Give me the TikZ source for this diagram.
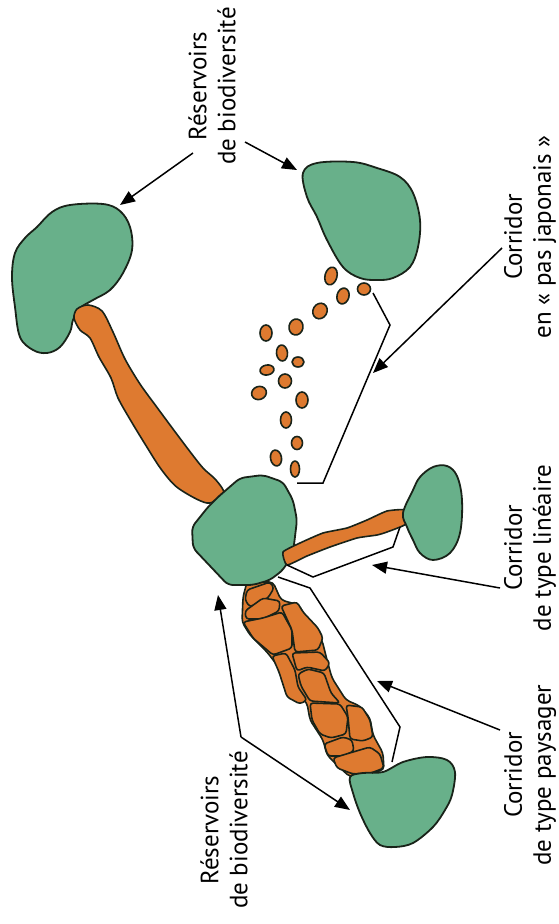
\documentclass[tikz,border=0pt]{standalone}
\usepackage{fontspec}
\setmainfont{PT Sans}
\usetikzlibrary{arrows.meta}
\definecolor{resgreen}{RGB}{104,176,138}
\definecolor{corange}{RGB}{222,122,48}
\definecolor{outl}{RGB}{25,35,25}
\begin{document}
\begin{tikzpicture}[x=1pt,y=-1pt,
 blob/.style={fill=resgreen,draw=outl,line width=1.8pt,line join=round},
 corr/.style={fill=corange,draw=outl,line width=1.6pt,line join=round},
 leader/.style={draw=black,line width=1.5pt,line join=miter},
 arr/.style={leader,-{Triangle[length=15pt,width=12pt]}},
 lbl/.style={rotate=90,align=center,font=\fontsize{25}{29}\selectfont,inner sep=0pt}]
\useasboundingbox (0,0) rectangle (558,924);

% top-left reservoir
\draw[blob] plot[smooth cycle,tension=0.6] coordinates {(70,205) (103,204) (120,211) (130,227) (132,250) (123,273) (110,290) (93,300) (80,308) (73,320) (70,332) (60,347) (47,353) (33,350) (20,337) (15,307) (12,277) (15,253) (25,238) (37,227) (52,212)};
% long corridor
\draw[corr] plot[smooth cycle,tension=0.5] coordinates {(74,318) (80,330) (90,338) (99,357) (111,378) (118,398) (131,421) (145,444) (161,469) (178,488) (207,503) (224,494) (216,480) (203,468) (188,449) (173,429) (156,406) (140,384) (125,359) (113,332) (102,311) (88,305) (77,309)};

% landscape corridor (paysager)
\draw[corr,rounded corners=4pt] (247,582) -- (243,597) -- (242,622) -- (250,635) -- (267,652) -- (277,665) -- (290,685) -- (307,703) -- (310,720) -- (323,740) -- (327,755) -- (337,765) -- (350,777) -- (384,770) -- (383,753) -- (373,735) -- (370,718) -- (360,706) -- (346,700) -- (332,678) -- (327,660) -- (322,640) -- (310,625) -- (299,605) -- (281,600) -- (273,582) -- cycle;
\draw[corr,rounded corners=3pt] (247,590) -- (270,582) -- (274,588) -- (268,598) -- (250,607) -- (245,600) -- cycle;
\draw[corr,rounded corners=3pt] (245,611) -- (263,598) -- (280,601) -- (279,611) -- (263,619) -- (246,619) -- cycle;
\draw[corr,rounded corners=3pt] (243,622) -- (263,618) -- (282,612) -- (292,630) -- (292,648) -- (273,655) -- (253,638) -- cycle;
\draw[corr,rounded corners=3pt] (281,606) -- (297,602) -- (303,612) -- (318,628) -- (323,638) -- (318,650) -- (295,652) -- (292,630) -- cycle;
\draw[corr,rounded corners=3pt] (272,656) -- (286,653) -- (295,670) -- (298,687) -- (307,700) -- (300,704) -- (287,697) -- (279,672) -- cycle;
\draw[corr,rounded corners=3pt] (292,653) -- (320,652) -- (330,663) -- (325,671) -- (307,667) -- (297,671) -- cycle;
\draw[corr,rounded corners=3pt] (298,674) -- (308,669) -- (324,673) -- (331,693) -- (340,703) -- (310,701) -- (301,686) -- cycle;
\draw[corr,rounded corners=3pt] (310,703) -- (340,704) -- (348,717) -- (346,734) -- (331,738) -- (320,734) -- (312,720) -- cycle;
\draw[corr,rounded corners=3pt] (346,705) -- (362,707) -- (370,720) -- (373,737) -- (363,741) -- (350,739) -- (348,717) -- cycle;
\draw[corr,rounded corners=3pt] (324,744) -- (343,737) -- (352,740) -- (354,751) -- (343,756) -- (328,756) -- cycle;
\draw[corr,rounded corners=3pt] (333,758) -- (353,752) -- (370,747) -- (380,754) -- (384,768) -- (371,773) -- (353,774) -- (337,768) -- cycle;

% central reservoir
\draw[blob,rounded corners=5pt] (218,497) -- (240,478) -- (263,475) -- (283,482) -- (293,500) -- (297,520) -- (293,553) -- (283,570) -- (270,580) -- (253,585) -- (228,585) -- (193,548) -- (192,527) -- (208,507) -- cycle;
% bottom reservoir
\draw[blob] plot[smooth cycle,tension=0.55] coordinates {(350,777) (363,773) (383,772) (403,762) (427,757) (447,760) (455,772) (452,795) (445,810) (433,827) (413,843) (395,847) (380,845) (370,833) (360,813) (353,793)};
% linear corridor
\draw[corr] plot[smooth cycle,tension=0.3] coordinates {(283,552) (300,543) (323,533) (347,528) (367,520) (387,511) (406,510) (406,524) (387,532) (377,535) (357,538) (330,547) (307,556) (287,565)};
% linear reservoir
\draw[blob] plot[smooth cycle,tension=0.6] coordinates {(403,513) (413,490) (420,477) (433,467) (447,466) (457,476) (462,500) (460,533) (450,553) (433,560) (420,553) (413,540) (407,527)};
% top-right reservoir
\draw[blob] plot[smooth cycle,tension=0.6] coordinates {(303,173) (317,163) (353,162) (377,168) (400,177) (413,193) (420,220) (418,247) (410,267) (393,278) (377,280) (360,278) (343,267) (327,240) (317,217) (307,197)};

% stepping stones
\draw[corr] (331,276) ellipse [x radius=6pt,y radius=9pt,rotate=-15];
\draw[corr] (343,296) ellipse [x radius=6pt,y radius=8pt,rotate=-15];
\draw[corr] (364,289) ellipse [x radius=6.5pt,y radius=6pt];
\draw[corr] (320,311) ellipse [x radius=7pt,y radius=8pt,rotate=-30];
\draw[corr] (296,327) ellipse [x radius=7pt,y radius=8pt,rotate=-10];
\draw[corr] (266,333) ellipse [x radius=6pt,y radius=8pt];
\draw[corr] (282,353) ellipse [x radius=5.5pt,y radius=8pt,rotate=5];
\draw[corr] (298,362) ellipse [x radius=6pt,y radius=5pt];
\draw[corr] (267,370) ellipse [x radius=7pt,y radius=5pt,rotate=10];
\draw[corr] (285,381) ellipse [x radius=6.5pt,y radius=7pt];
\draw[corr] (259,393) ellipse [x radius=7.5pt,y radius=6.5pt,rotate=20];
\draw[corr] (302,400) ellipse [x radius=6pt,y radius=8pt];
\draw[corr] (286,420) ellipse [x radius=5.5pt,y radius=8pt];
\draw[corr] (297,443) ellipse [x radius=5.5pt,y radius=6.5pt];
\draw[corr] (276,458) ellipse [x radius=5.5pt,y radius=8pt,rotate=10];
\draw[corr] (295,469) ellipse [x radius=4.5pt,y radius=8pt];

% labels
\node[lbl] (topres) at (212,86) {Réservoirs\\de biodiversité};
\node[lbl] (japo) at (530,237) {Corridor\\en «~pas japonais~»};
\node[lbl] (lin) at (530,548) {Corridor\\de type linéaire};
\node[lbl] (pays) at (530,775) {Corridor\\de type paysager};
\node[lbl] (botres) at (224,830) {Réservoirs\\de biodiversité};

% coordinates
\coordinate (t1s) at (193,153); \coordinate (t1e) at (120,205);
\coordinate (t2s) at (245,142); \coordinate (t2e) at (297,170);
\coordinate (js) at (502,248); \coordinate (je) at (373,373);
\coordinate (ls) at (500,588); \coordinate (le) at (372,565);
\coordinate (ps) at (500,730); \coordinate (pe) at (377,681);
\coordinate (bv) at (241,737); \coordinate (be1) at (218,595); \coordinate (be2) at (350,810);
\coordinate (jb1) at (373,293); \coordinate (jb2) at (390,325); \coordinate (jb3) at (323,483); \coordinate (jb4) at (297,483);
\coordinate (lb1) at (400,527); \coordinate (lb2) at (393,547); \coordinate (lb3) at (313,577); \coordinate (lb4) at (287,565);
\coordinate (pb1) at (278,577); \coordinate (pb2) at (310,588); \coordinate (pb3) at (400,727); \coordinate (pb4) at (392,762);

% brackets
\draw[leader] (jb1) -- (jb2) -- (jb3) -- (jb4);
\draw[leader] (lb1) -- (lb2) -- (lb3) -- (lb4);
\draw[leader] (pb1) -- (pb2) -- (pb3) -- (pb4);

% arrows
\draw[arr] (t1s) -- (t1e);
\draw[arr] (t2s) -- (t2e);
\draw[arr] (js) -- (je);
\draw[arr] (ls) -- (le);
\draw[arr] (ps) -- (pe);
\draw[arr] (bv) -- (be1);
\draw[arr] (bv) -- (be2);
\end{tikzpicture}
\end{document}
